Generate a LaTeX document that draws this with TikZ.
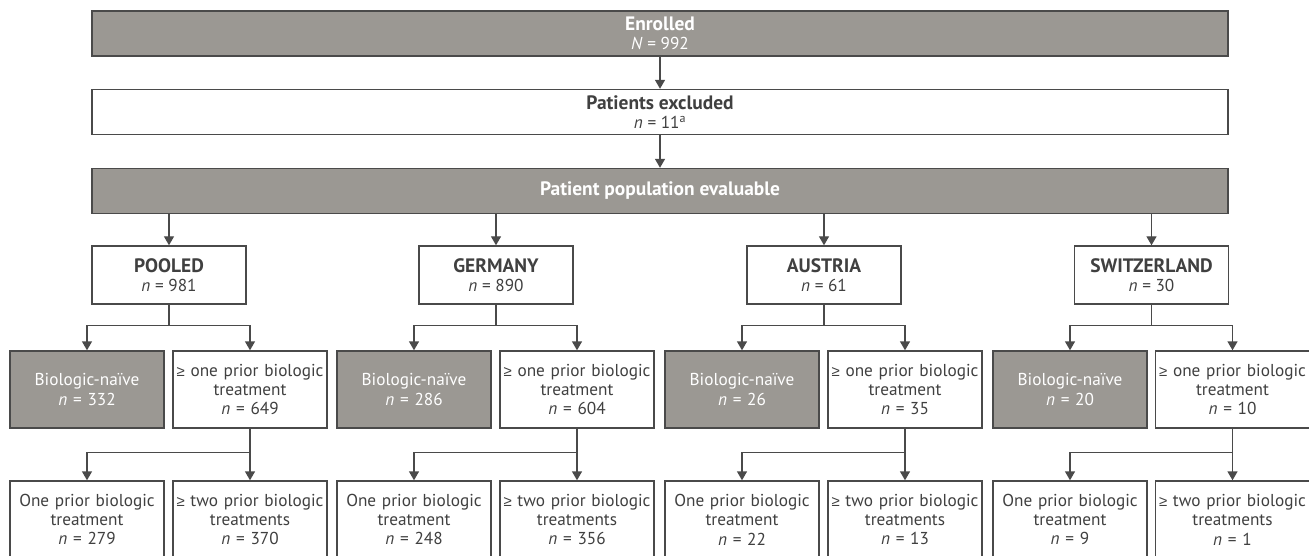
\documentclass[tikz,border=0pt]{standalone}
\usepackage{fontspec}
\setmainfont{PT Sans}
\newfontfamily\symf{Liberation Sans}
\newcommand{\gesym}{{\symf\fontsize{15}{19.5}\selectfont ≥}}
\newcommand{\hd}[1]{{\fontsize{19.5}{19.5}\selectfont\bfseries #1}}
\usetikzlibrary{arrows.meta}
\definecolor{boxgray}{HTML}{9B9893}
\definecolor{linegray}{HTML}{4A4A4A}
\definecolor{txtgray}{HTML}{404040}
\tikzset{
  base/.style={draw=linegray, line width=1.4bp, align=center, inner sep=0pt,
    font=\fontsize{17.3}{19.5}\selectfont, text=txtgray},
  graybox/.style={base, fill=boxgray, text=white},
  whitebox/.style={base, fill=white},
  widebox/.style={minimum width=1136bp, minimum height=45bp},
  ctrybox/.style={minimum width=154bp, minimum height=58bp},
  smallbox/.style={minimum width=154bp, text width=152bp, minimum height=77bp},
  arr/.style={draw=linegray, line width=1.4bp, -{Triangle[length=9bp,width=10bp]}},
  plain/.style={draw=linegray, line width=1.4bp}
}
\begin{document}
\begin{tikzpicture}[x=1bp,y=-1bp]
\useasboundingbox[fill=white] (0,0) rectangle (1309,556);
% top boxes
\node[graybox,widebox] (enr) at (660,33.5) {\hd{Enrolled}\\\textit{N} = 992};
\node[whitebox,widebox] (exc) at (660,112) {\hd{Patients excluded}\\\textit{n} = 11\textsuperscript{a}};
\node[graybox,widebox] (pop) at (660,191) {\hd{Patient population evaluable}};
\draw[arr] (enr.south) -- (exc.north);
\draw[arr] (exc.south) -- (pop.north);
% countries
\node[whitebox,ctrybox] (c1) at (169,275) {\hd{POOLED}\\\textit{n} = 981};
\node[whitebox,ctrybox] (c2) at (496,275) {\hd{GERMANY}\\\textit{n} = 890};
\node[whitebox,ctrybox] (c3) at (824,275) {\hd{AUSTRIA}\\\textit{n} = 61};
\node[whitebox,ctrybox] (c4) at (1151.5,275) {\hd{SWITZERLAND}\\\textit{n} = 30};
\foreach \c in {c1,c2,c3,c4}{\draw[arr] (pop.south -| \c.north) -- (\c.north);}
% second level
\node[graybox,smallbox] (n1) at (87,389.5) {Biologic-naïve\\\textit{n} = 332};
\node[whitebox,smallbox] (p1) at (250,389.5) {\gesym{} one prior biologic\\treatment\\\textit{n} = 649};
\node[graybox,smallbox] (n2) at (414,389.5) {Biologic-naïve\\\textit{n} = 286};
\node[whitebox,smallbox] (p2) at (577,389.5) {\gesym{} one prior biologic\\treatment\\\textit{n} = 604};
\node[graybox,smallbox] (n3) at (742,389.5) {Biologic-naïve\\\textit{n} = 26};
\node[whitebox,smallbox] (p3) at (905,389.5) {\gesym{} one prior biologic\\treatment\\\textit{n} = 35};
\node[graybox,smallbox] (n4) at (1070,389.5) {Biologic-naïve\\\textit{n} = 20};
\node[whitebox,smallbox] (p4) at (1232.5,389.5) {\gesym{} one prior biologic\\treatment\\\textit{n} = 10};
% bottom level
\node[whitebox,smallbox] (o1) at (87,519.5) {One prior biologic\\treatment\\\textit{n} = 279};
\node[whitebox,smallbox] (t1) at (250,519.5) {\gesym{} two prior biologic\\treatments\\\textit{n} = 370};
\node[whitebox,smallbox] (o2) at (414,519.5) {One prior biologic\\treatment\\\textit{n} = 248};
\node[whitebox,smallbox] (t2) at (577,519.5) {\gesym{} two prior biologic\\treatments\\\textit{n} = 356};
\node[whitebox,smallbox] (o3) at (742,519.5) {One prior biologic\\treatment\\\textit{n} = 22};
\node[whitebox,smallbox] (t3) at (905,519.5) {\gesym{} two prior biologic\\treatments\\\textit{n} = 13};
\node[whitebox,smallbox] (o4) at (1070,519.5) {One prior biologic\\treatment\\\textit{n} = 9};
\node[whitebox,smallbox] (t4) at (1232.5,519.5) {\gesym{} two prior biologic\\treatments\\\textit{n} = 1};
% splits
\foreach \i in {1,2,3,4}{
  \draw[plain] (c\i.south) -- ++(0,21) coordinate (j\i);
  \draw[arr] (j\i) -| (n\i.north);
  \draw[arr] (j\i) -| (p\i.north);
  \draw[plain] (p\i.south) -- ++(0,24) coordinate (k\i);
  \draw[arr] (k\i) -| (o\i.north);
  \draw[arr] (p\i.south) -- (t\i.north);
}
\end{tikzpicture}
\end{document}
